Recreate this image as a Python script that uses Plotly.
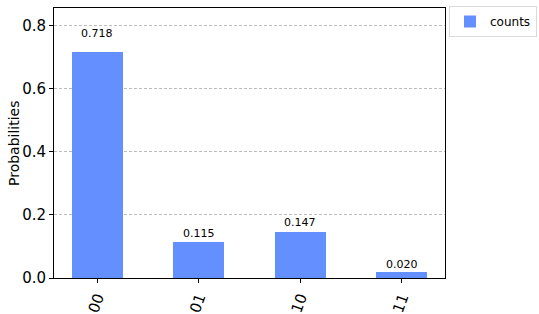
import plotly.graph_objects as go

categories = ["00", "01", "10", "11"]
probabilities = [0.718, 0.115, 0.147, 0.020]
value_labels = ["0.718", "0.115", "0.147", "0.020"]
y_ticks = [0.0, 0.2, 0.4, 0.6, 0.8]
y_tick_labels = ["0.0", "0.2", "0.4", "0.6", "0.8"]
y_title = "Probabilities"

BAR_COLOR = "#648FFF"
FONT = "DejaVu Sans"

fig = go.Figure()
fig.add_trace(go.Bar(
    x=list(range(len(categories))),
    y=probabilities,
    width=0.5,
    marker=dict(color=BAR_COLOR, line=dict(width=0)),
    name="counts",
    showlegend=True,
))

for i, (v, lab) in enumerate(zip(probabilities, value_labels)):
    fig.add_annotation(
        x=i, y=1.05 * v, text=lab, showarrow=False,
        yanchor="bottom", xanchor="center",
        font=dict(family=FONT, size=11, color="black"),
        yshift=-2,
    )

fig.add_annotation(
    xref="paper", yref="paper", x=0, y=0.5, xshift=-40,
    text=y_title, textangle=-90, showarrow=False,
    xanchor="center", yanchor="middle",
    font=dict(family=FONT, size=14, color="black"),
)

fig.update_layout(
    width=539, height=314,
    margin=dict(l=54, r=94, t=8, b=36),
    paper_bgcolor="white", plot_bgcolor="white",
    font=dict(family=FONT, color="black"),
    bargap=0,
    legend=dict(
        xref="container", yref="container",
        x=449 / 539, y=1 - 6 / 314, xanchor="left", yanchor="top",
        bordercolor="#d9d9d9", borderwidth=1,
        font=dict(family=FONT, size=12, color="black"),
        bgcolor="white",
        tracegroupgap=0,
    ),
    xaxis=dict(
        range=[-0.425, 3.425],
        tickmode="array",
        tickvals=list(range(len(categories))),
        ticktext=categories,
        tickangle=-70,
        tickfont=dict(family=FONT, size=15, color="black"),
        showline=True, linecolor="black", linewidth=1, mirror=True,
        ticks="outside", ticklen=4, tickcolor="black",
        showgrid=False, zeroline=False,
        automargin=False,
    ),
    yaxis=dict(
        range=[0, 0.857],
        tickmode="array",
        tickvals=y_ticks,
        ticktext=y_tick_labels,
        tickfont=dict(family=FONT, size=15, color="black"),
        showline=True, linecolor="black", linewidth=1, mirror=True,
        ticks="outside", ticklen=4, tickcolor="black",
        showgrid=True, gridcolor="#bdbdbd", griddash="3px,2px", gridwidth=0.8,
        zeroline=False,
        automargin=False,
    ),
)

fig.write_html("out.html")
